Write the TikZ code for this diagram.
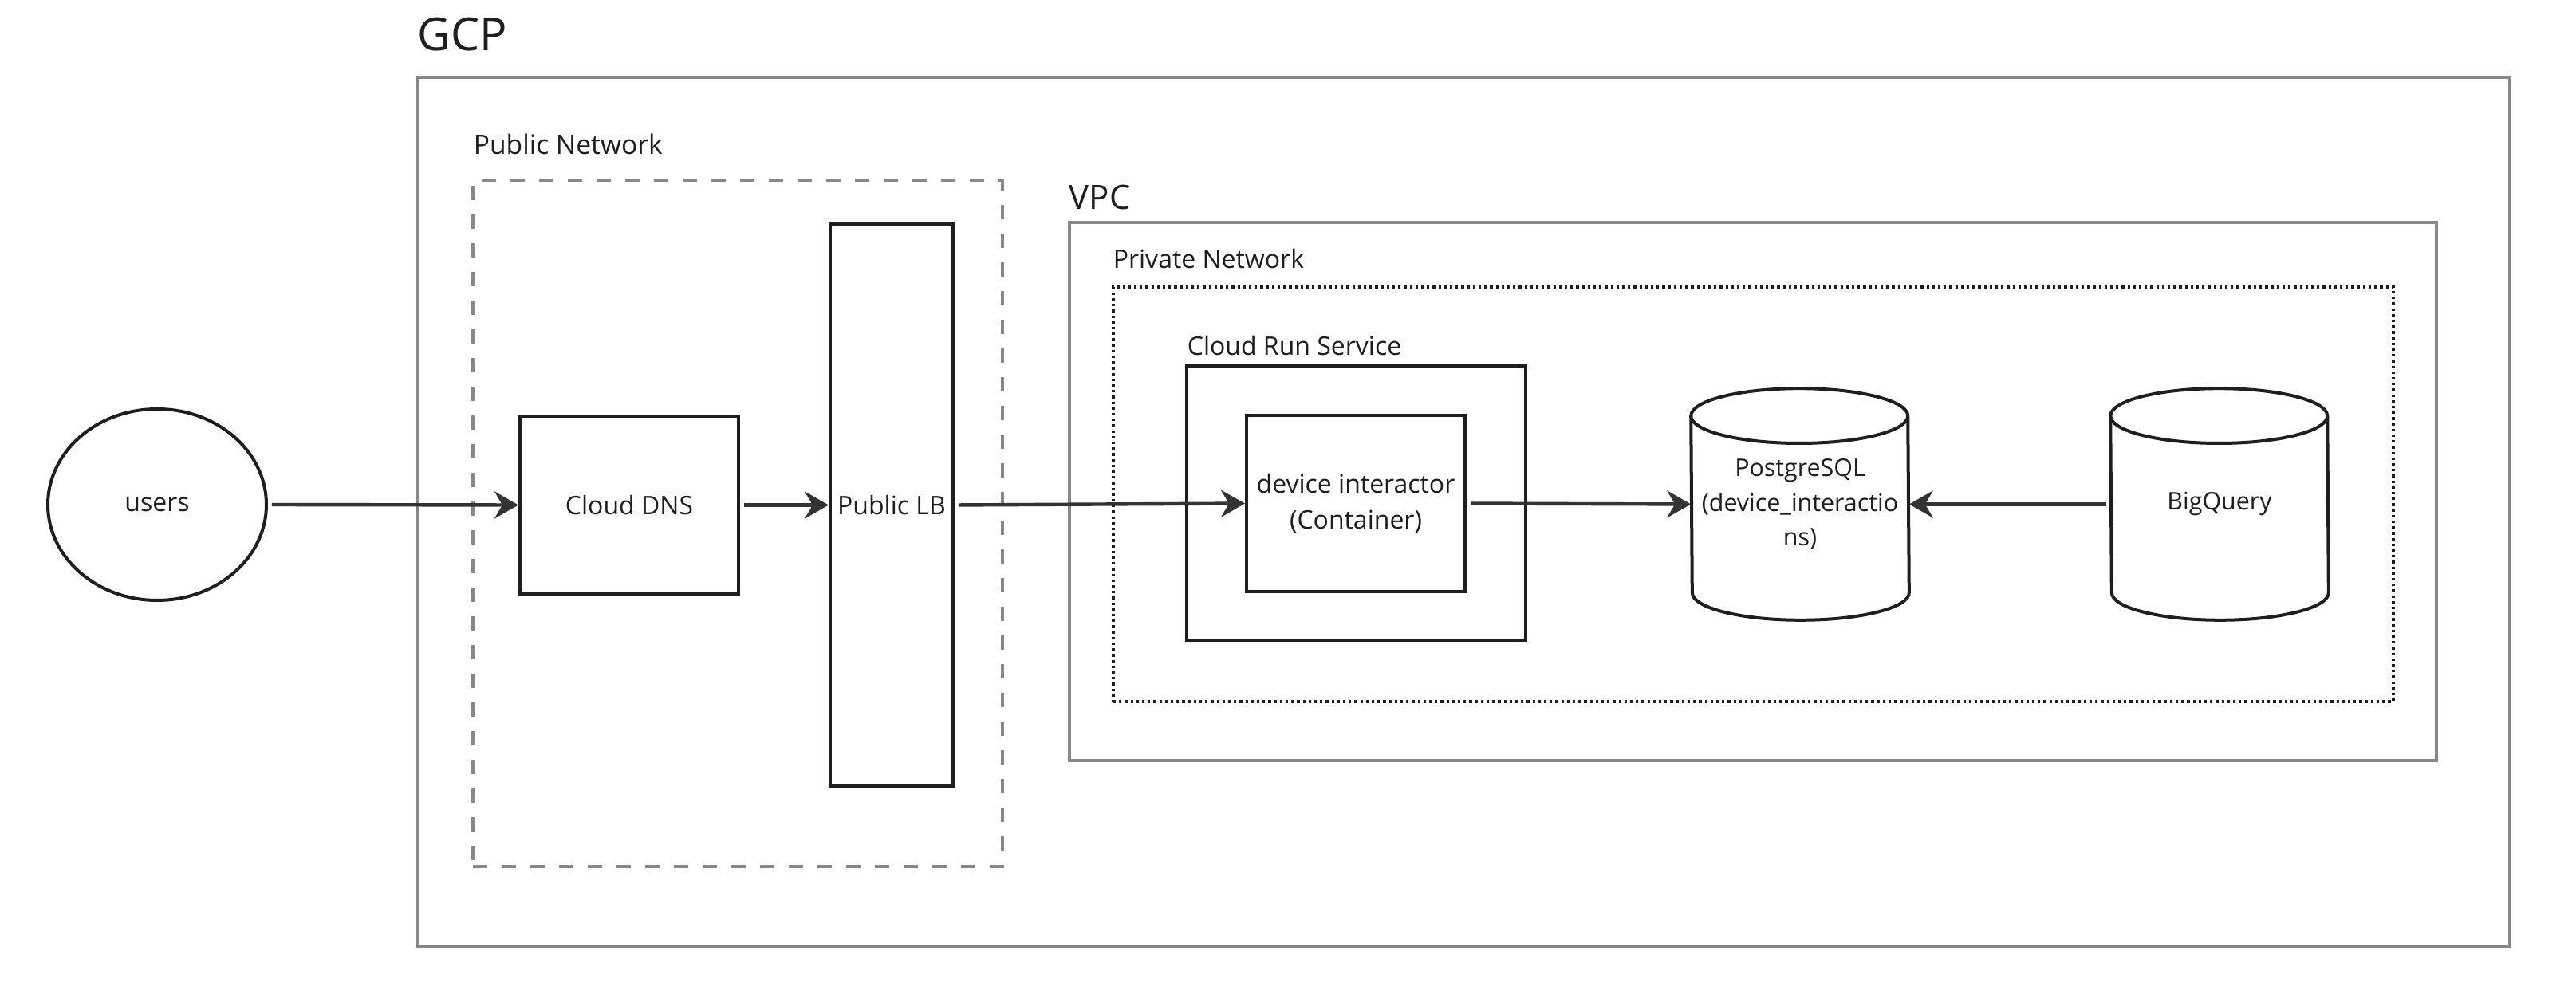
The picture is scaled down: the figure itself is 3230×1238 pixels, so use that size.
\documentclass[tikz,border=0pt]{standalone}
\usepackage{fontspec}
\setmainfont{Open Sans}
\usetikzlibrary{shapes.geometric,arrows.meta,fit}
\definecolor{zonegray}{HTML}{888888}
\definecolor{boxblack}{HTML}{1E1E1E}
\definecolor{flowgray}{HTML}{333333}
\begin{document}
\begin{tikzpicture}
[x=0.25pt, y=-0.25pt,
zone/.style={draw=zonegray, line width=1pt, inner sep=0pt},
pubzone/.style={zone, dash pattern=on 4.5pt off 4.5pt},
privzone/.style={draw=boxblack, line width=0.9pt, dash pattern=on 0.8pt off 1pt, inner sep=0pt},
runzone/.style={draw=boxblack, line width=1pt, inner sep=0pt},
zonelabel/.style={anchor=base west, inner sep=0pt, text=boxblack, font=\fontsize{8}{10}\selectfont},
user/.style={ellipse, draw=boxblack, line width=1pt, minimum width=68.5pt, minimum height=60pt, text=boxblack, font=\fontsize{8}{11}\selectfont},
box/.style={rectangle, draw=boxblack, line width=1pt, align=center, inner sep=2pt, text=boxblack, font=\fontsize{8}{11.2}\selectfont},
db/.style={rectangle, align=center, inner sep=1pt, minimum width=68pt, minimum height=72.25pt, text=boxblack, font=\fontsize{7.6}{10.8}\selectfont},
dbline/.style={draw=boxblack, line width=1pt, line join=round},
flow/.style={draw=flowgray, line width=1.1pt, shorten <=1.2pt, -{Stealth[length=7.5pt, width=8.5pt, inset=2.5pt]}}
]
\useasboundingbox (0,0) rectangle (3230,1238);

% zones
\node[zone, fit={(523,97) (3147,1187)}] (gcp) {};
\node[pubzone, fit={(593,226) (1257,1087)}] (pub) {};
\node[zone, fit={(1341,279) (3055,954)}] (vpc) {};
\node[privzone, fit={(1396,360) (3001,880)}] (priv) {};
\node[runzone, fit={(1488,459) (1913,803)}] (run) {};

\node[zonelabel, font=\fontsize{14.3}{16}\selectfont] (gcplabel) at (523,64) {GCP};
\node[zonelabel, font=\fontsize{8.4}{10}\selectfont] (publabel) at (593,194) {Public Network};
\node[zonelabel, font=\fontsize{10.5}{12}\selectfont] (vpclabel) at (1340,263) {VPC};
\node[zonelabel] (privlabel) at (1395,337) {Private Network};
\node[zonelabel] (runlabel) at (1488,446) {Cloud Run Service};

% components
\node[user] (users) at (197,633) {users};
\node[box, minimum width=68.5pt, minimum height=55.75pt] (dns) at (789,633.5) {Cloud DNS};
\node[box, minimum width=38.5pt, minimum height=176.25pt] (lb) at (1118,633.5) {Public LB};
\node[box, minimum width=68.5pt, minimum height=55.25pt] (device) at (1700,631.5) {device interactor\\(Container)};
\node[db] (pg) at (2257,632.5) {PostgreSQL\\(device\_interactio\\ns)};
\node[db] (bq) at (2783,632.5) {BigQuery};

% cylinders
\foreach \n in {pg,bq} {
  \draw[dbline] ([yshift=-8.6pt]\n.north west) arc[start angle=180, end angle=0, x radius=34pt, y radius=8.6pt]
    -- ([yshift=8.6pt]\n.south east) arc[start angle=0, end angle=-180, x radius=34pt, y radius=8.6pt] -- cycle;
  \draw[dbline] ([yshift=-8.6pt]\n.north west) arc[start angle=180, end angle=360, x radius=34pt, y radius=8.6pt];
}

% flows
\draw[flow] (users.east) -- (dns.west);
\draw[flow] (dns.east) -- (lb.west);
\draw[flow] (lb.east) -- (device.west);
\draw[flow] (device.east) -- (pg.west);
\draw[flow] (bq.west) -- (pg.east);
\end{tikzpicture}
\end{document}
